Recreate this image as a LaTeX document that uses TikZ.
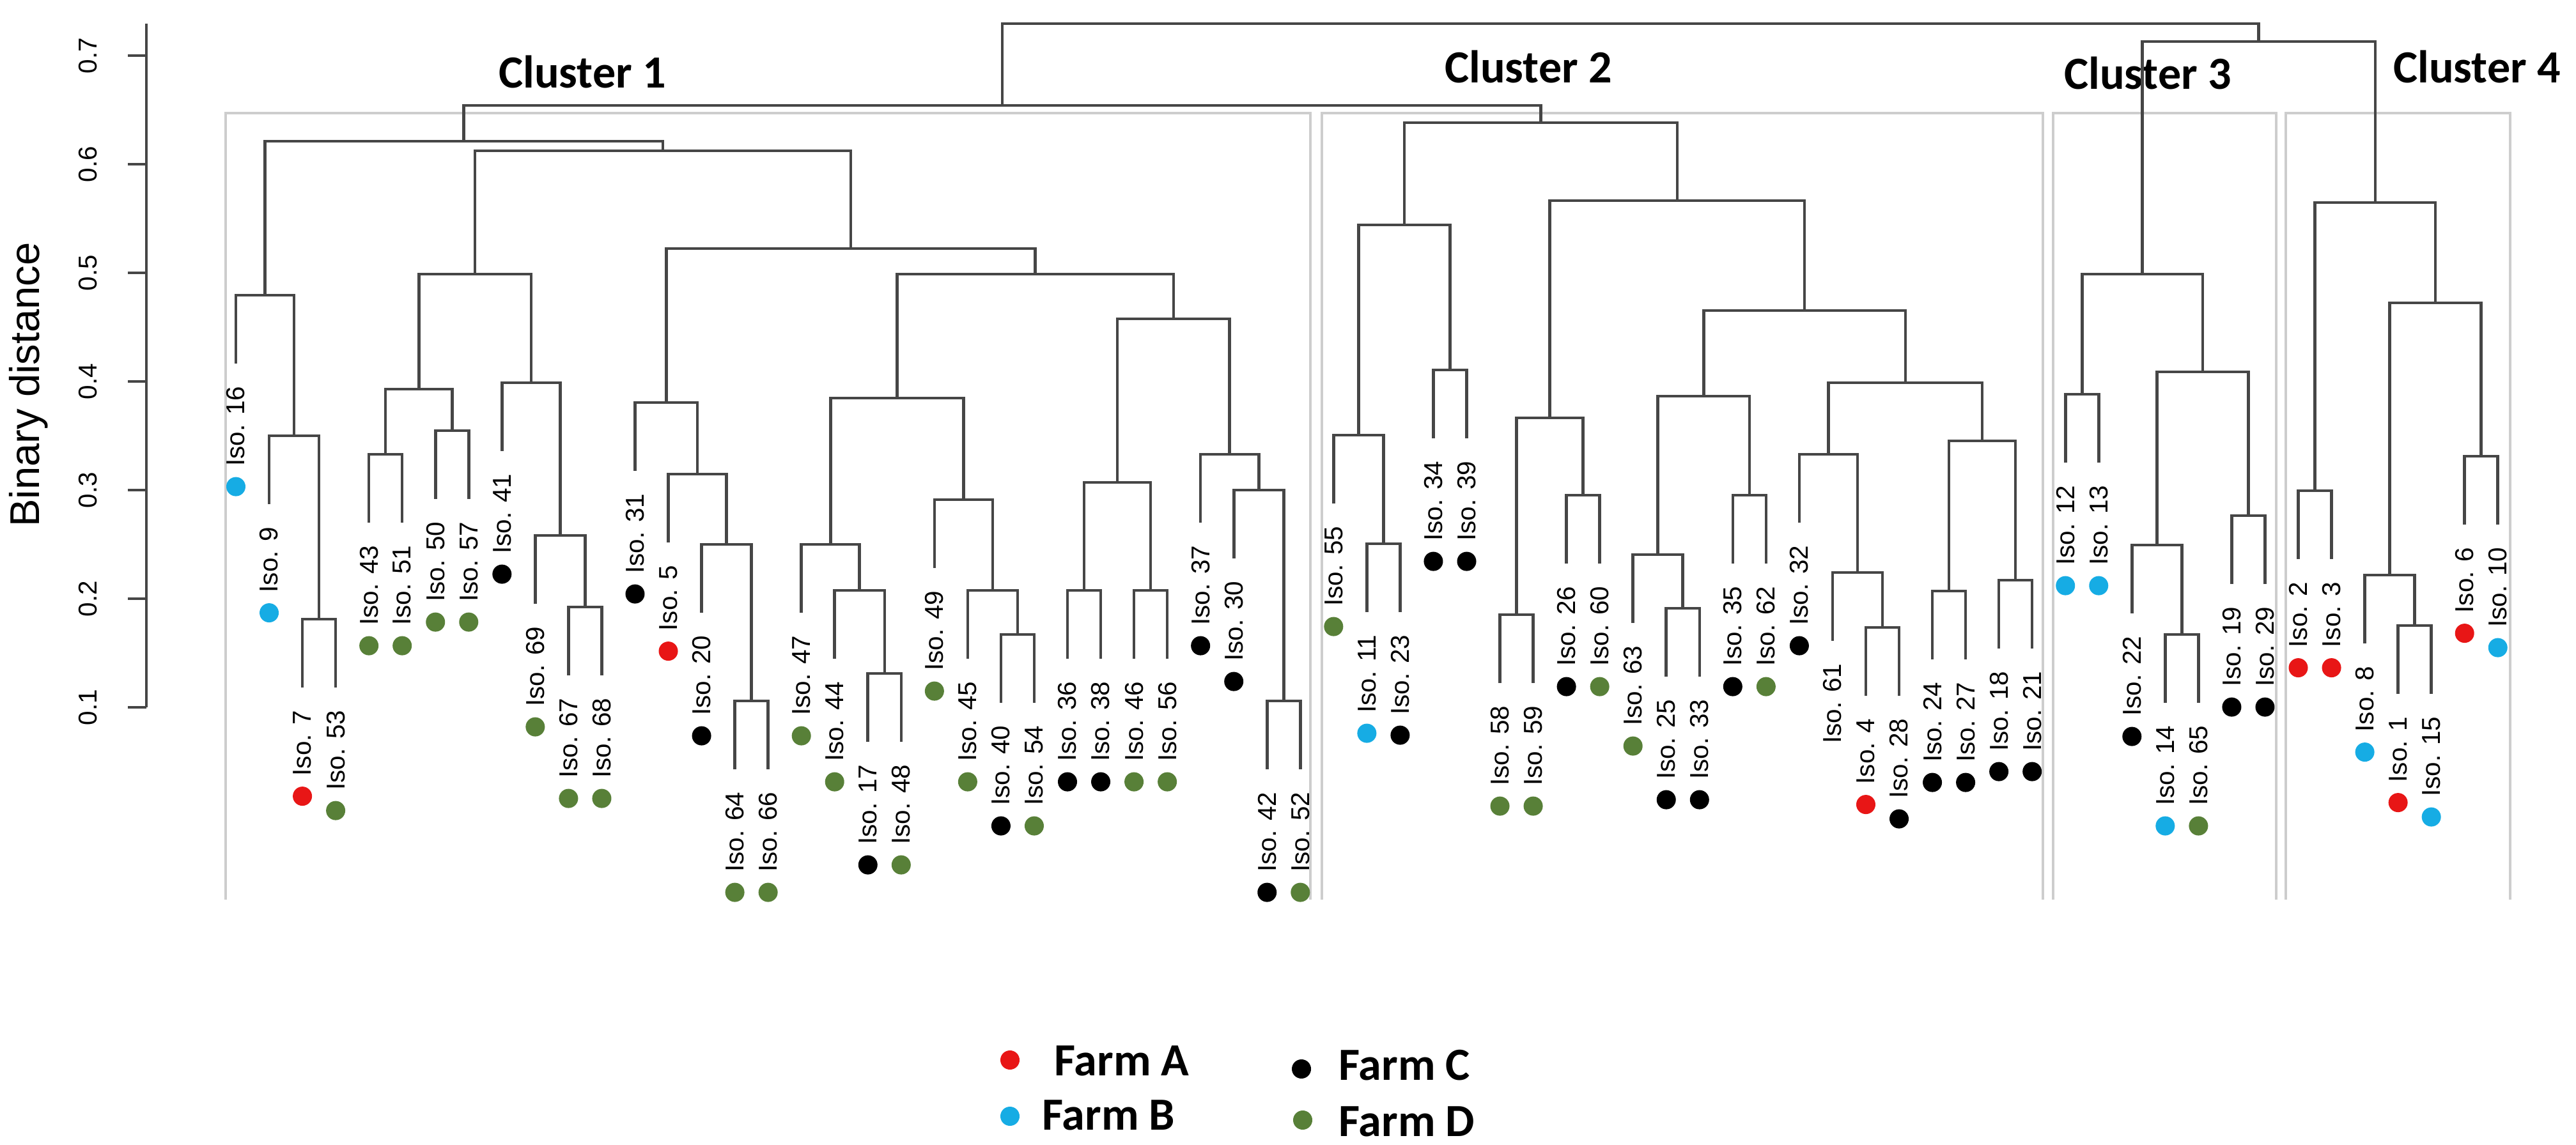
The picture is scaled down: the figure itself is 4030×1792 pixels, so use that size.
\documentclass[tikz,border=0pt]{standalone}
\usepackage{fontspec}
\setmainfont{Liberation Sans}
\newfontfamily\carlito{Carlito}
\usepackage{tikz}
\usetikzlibrary{calc}

\definecolor{farmA}{RGB}{232,22,22}
\definecolor{farmB}{RGB}{22,172,228}
\definecolor{farmC}{RGB}{0,0,0}
\definecolor{farmD}{RGB}{88,128,56}
\definecolor{treegray}{RGB}{70,70,70}
\definecolor{boxgray}{RGB}{205,205,205}

\tikzset{
  branch/.style={draw=treegray, line width=1.3pt},
  isolabel/.style={rotate=90, anchor=east, inner sep=0pt, font=\fontsize{11.5}{12}\selectfont},
  farmdot/.style={shape=circle, fill=#1, inner sep=0pt, minimum size=0.3cm},
  clusterbox/.style={draw=boxgray, line width=1pt},
  clustername/.style={anchor=base, inner sep=0pt, font=\carlito\bfseries\fontsize{20.5}{24}\selectfont},
  farmname/.style={anchor=base west, inner sep=0pt, font=\carlito\bfseries\fontsize{20.5}{24}\selectfont},
  ticklabel/.style={rotate=90, inner sep=0pt, font=\fontsize{11.5}{12}\selectfont},
}

% join two subtrees at a given height (in px, downwards)
\newcommand\joinbranch[4]{%
  \draw[branch] (#2) -- (#2 |- 0,#4) -- (#3 |- 0,#4) -- (#3);
  \path (#2 |- 0,#4) -- (#3 |- 0,#4) coordinate[midway] (#1);
}

\begin{document}
\begin{tikzpicture}[x=0.01cm, y=-0.01cm]
  \useasboundingbox (0,0) rectangle (4030,1792);

  % cluster boxes
  \draw[clusterbox] (353,1408) -- (353,177) -- (2050,177) -- (2050,1408);
  \draw[clusterbox] (2068,1408) -- (2068,177) -- (3196,177) -- (3196,1408);
  \draw[clusterbox] (3212,1408) -- (3212,177) -- (3561,177) -- (3561,1408);
  \draw[clusterbox] (3576,1408) -- (3576,177) -- (3927,177) -- (3927,1408);

  \node[clustername] (cl1) at (911,138) {Cluster 1};
  \node[clustername] (cl2) at (2391,130) {Cluster 2};
  \node[clustername] (cl3) at (3360,140) {Cluster 3};
  \node[clustername] (cl4) at (3875,130) {Cluster 4};

  % axis
  \coordinate (axtop) at (229,37);
  \coordinate (axbot) at (229,1107);
  \draw[branch] (axtop) -- (axbot);
  \foreach \v/\y in {0.7/87, 0.6/257, 0.5/427, 0.4/597, 0.3/767, 0.2/937, 0.1/1107}{
    \draw[branch] (229,\y) -- (200,\y);
    \node[ticklabel] (tick\y) at (138,\y) {\v};
  }
  \node[rotate=90, font=\fontsize{18.5}{20}\selectfont] (ytitle) at (45,602) {Binary distance};

  % leaves: position / isolate / farm / height of parent
  \foreach \i/\iso/\farm/\up in {
    1/16/farmB/462, 2/9/farmB/682, 3/7/farmA/969, 4/53/farmD/969,
    5/43/farmD/711, 6/51/farmD/711, 7/50/farmD/674, 8/57/farmD/674,
    9/41/farmC/599, 10/69/farmD/838, 11/67/farmD/950, 12/68/farmD/950,
    13/31/farmC/630, 14/5/farmA/742, 15/20/farmC/852, 16/64/farmD/1097,
    17/66/farmD/1097, 18/47/farmD/852, 19/44/farmD/924, 20/17/farmC/1054,
    21/48/farmD/1054, 22/49/farmD/782, 23/45/farmD/924, 24/40/farmC/993,
    25/54/farmD/993, 26/36/farmC/924, 27/38/farmC/924, 28/46/farmD/924,
    29/56/farmD/924, 30/37/farmC/711, 31/30/farmC/767, 32/42/farmC/1097,
    33/52/farmD/1097,
    34/55/farmD/681, 35/11/farmB/851, 36/23/farmC/851, 37/34/farmC/579,
    38/39/farmC/579, 39/58/farmD/962, 40/59/farmD/962, 41/26/farmC/775,
    42/60/farmD/775, 43/63/farmD/868, 44/25/farmC/952, 45/33/farmC/952,
    46/35/farmC/775, 47/62/farmD/775, 48/32/farmC/711, 49/61/none/896,
    50/4/farmA/982, 51/28/farmC/982, 52/24/farmC/925, 53/27/farmC/925,
    54/18/farmC/908, 55/21/farmC/908,
    56/12/farmB/617, 57/13/farmB/617, 58/22/farmC/853, 59/14/farmB/993,
    60/65/farmD/993, 61/19/farmC/807, 62/29/farmC/807,
    63/2/farmA/768, 64/3/farmA/768, 65/8/farmB/900, 66/1/farmA/979,
    67/15/farmB/979, 68/6/farmA/714, 69/10/farmB/714}{
    \coordinate (L\iso) at ({369+(\i-1)*52.04},{\up+107});
    \node[isolabel] (T\iso) at ([yshift=-0.35cm]L\iso) {Iso. \iso};
    \node[farmdot=\farm] (D\iso) at ([yshift=-0.31cm]T\iso.west) {};
  }

  % cluster 1
  \joinbranch{a1}{L7}{L53}{969}
  \joinbranch{a2}{L9}{a1}{682}
  \joinbranch{a3}{L16}{a2}{462}
  \joinbranch{a4}{L43}{L51}{711}
  \joinbranch{a5}{L50}{L57}{674}
  \joinbranch{a6}{a4}{a5}{609}
  \joinbranch{a7}{L67}{L68}{950}
  \joinbranch{a8}{L69}{a7}{838}
  \joinbranch{a9}{L41}{a8}{599}
  \joinbranch{a10}{a6}{a9}{429}
  \joinbranch{a11}{L64}{L66}{1097}
  \joinbranch{a12}{L20}{a11}{852}
  \joinbranch{a13}{L5}{a12}{742}
  \joinbranch{a14}{L31}{a13}{630}
  \joinbranch{a15}{L17}{L48}{1054}
  \joinbranch{a16}{L44}{a15}{924}
  \joinbranch{a17}{L47}{a16}{852}
  \joinbranch{a18}{L40}{L54}{993}
  \joinbranch{a19}{L45}{a18}{924}
  \joinbranch{a20}{L49}{a19}{782}
  \joinbranch{a21}{a17}{a20}{623}
  \joinbranch{a22}{L36}{L38}{924}
  \joinbranch{a23}{L46}{L56}{924}
  \joinbranch{a24}{a22}{a23}{755}
  \joinbranch{a25}{L42}{L52}{1097}
  \joinbranch{a26}{L30}{a25}{767}
  \joinbranch{a27}{L37}{a26}{711}
  \joinbranch{a28}{a24}{a27}{499}
  \joinbranch{a29}{a21}{a28}{429}
  \joinbranch{a30}{a14}{a29}{389}
  \joinbranch{a31}{a10}{a30}{236}
  \joinbranch{a32}{a3}{a31}{221}

  % cluster 2
  \joinbranch{b1}{L11}{L23}{851}
  \joinbranch{b2}{L55}{b1}{681}
  \joinbranch{b3}{L34}{L39}{579}
  \joinbranch{b4}{b2}{b3}{352}
  \joinbranch{b5}{L58}{L59}{962}
  \joinbranch{b6}{L26}{L60}{775}
  \joinbranch{b7}{b5}{b6}{654}
  \joinbranch{b8}{L25}{L33}{952}
  \joinbranch{b9}{L63}{b8}{868}
  \joinbranch{b10}{L35}{L62}{775}
  \joinbranch{b11}{b9}{b10}{620}
  \joinbranch{b12}{L4}{L28}{982}
  \joinbranch{b13}{L61}{b12}{896}
  \joinbranch{b14}{L32}{b13}{711}
  \joinbranch{b15}{L24}{L27}{925}
  \joinbranch{b16}{L18}{L21}{908}
  \joinbranch{b17}{b15}{b16}{690}
  \joinbranch{b18}{b14}{b17}{599}
  \joinbranch{b19}{b11}{b18}{486}
  \joinbranch{b20}{b7}{b19}{314}
  \joinbranch{b21}{b4}{b20}{192}

  % cluster 3
  \joinbranch{c1}{L12}{L13}{617}
  \joinbranch{c2}{L14}{L65}{993}
  \joinbranch{c3}{L22}{c2}{853}
  \joinbranch{c4}{L19}{L29}{807}
  \joinbranch{c5}{c3}{c4}{582}
  \joinbranch{c6}{c1}{c5}{429}

  % cluster 4
  \joinbranch{d1}{L2}{L3}{768}
  \joinbranch{d2}{L1}{L15}{979}
  \joinbranch{d3}{L8}{d2}{900}
  \joinbranch{d4}{L6}{L10}{714}
  \joinbranch{d5}{d3}{d4}{474}
  \joinbranch{d6}{d1}{d5}{317}

  % top
  \joinbranch{t1}{c6}{d6}{65}
  \joinbranch{t2}{a32}{b21}{165}
  \joinbranch{root}{t2}{t1}{37}

  % legend
  \node[farmdot=farmA] (keyA) at (1580,1659) {};
  \node[farmname] (nameA) at (1649,1683) {Farm A};
  \node[farmdot=farmB] (keyB) at (1580,1747) {};
  \node[farmname] (nameB) at (1630,1768) {Farm B};
  \node[farmdot=farmC] (keyC) at (2036,1673) {};
  \node[farmname] (nameC) at (2094,1690) {Farm C};
  \node[farmdot=farmD] (keyD) at (2038,1753) {};
  \node[farmname] (nameD) at (2094,1778) {Farm D};
\end{tikzpicture}
\end{document}
